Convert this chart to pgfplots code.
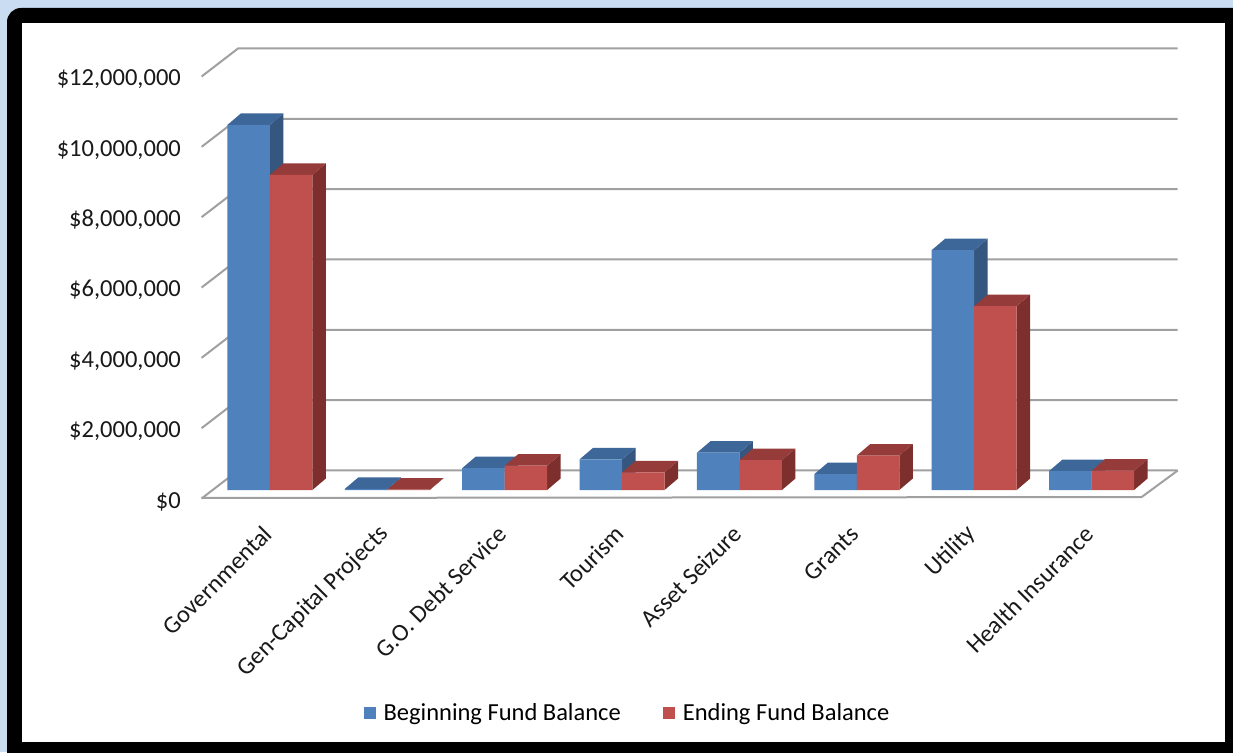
\documentclass[border=0pt]{standalone}
\usepackage{fontspec}
\setmainfont{Carlito}
\usepackage{pgfplots}
\usepackage{pgfplotstable}
\pgfplotsset{compat=1.18}
\definecolor{bluefront}{HTML}{4F81BD}
\definecolor{bluetop}{HTML}{3D6699}
\definecolor{blueside}{HTML}{34567F}
\definecolor{redfront}{HTML}{C0504D}
\definecolor{redtop}{HTML}{953B39}
\definecolor{redside}{HTML}{7D2F2D}
\definecolor{gridc}{HTML}{A0A0A0}
\definecolor{glow}{HTML}{C9DCF2}
\pgfplotstableread{
x begin end
0 10380000 8960000
1 30000 10000
2 620000 690000
3 870000 500000
4 1060000 850000
5 450000 980000
6 6820000 5230000
7 540000 550000
}\fundtable
\begin{document}
\begin{tikzpicture}[x=1pt,y=1pt]
\path[use as bounding box] (0,0) rectangle (1233,752);
\clip (0,0) rectangle (1233,752);
\fill[glow] (0,0) rectangle (1233,752);
\fill[black, rounded corners=14pt] (7,-40) rectangle (1270,744);
\fill[white] (22,10) rectangle (1225,729);
\begin{axis}[
  at={(200.6pt,262pt)}, anchor=south west,
  scale only axis, width=941.1pt, height=422pt,
  xmin=-0.59, xmax=7.427, ymin=0, ymax=12000000,
  clip=false,
  scaled y ticks=false,
  axis line style={draw=none},
  major tick length=0pt,
  xtick={0,...,7},
  xticklabels={Governmental, Gen-Capital Projects, G.O. Debt Service, Tourism, Asset Seizure, Grants, Utility, Health Insurance},
  ytick={0,2000000,4000000,6000000,8000000,10000000,12000000},
  yticklabels={{\$0},{\$2,000,000},{\$4,000,000},{\$6,000,000},{\$8,000,000},{\$10,000,000},{\$12,000,000}},
  tick label style={font=\fontsize{24.5}{29}\selectfont, text=black!90},
  yticklabel style={inner sep=0pt, xshift=-19.6pt, yshift=-18pt, anchor=base east},
  xticklabel style={inner sep=0pt, xshift=-2pt, yshift=-40pt, rotate=45, anchor=east},
  legend style={at={(0.4536,-0.528)}, anchor=center, draw=none, fill=none,
    legend columns=2, font=\fontsize{24.5}{29}\selectfont,
    /tikz/every even column/.append style={column sep=40pt}},
  legend image code/.code={\fill[#1] (0pt,-6pt) rectangle (12pt,6pt); \path (18pt,0pt);},
]
\addlegendimage{fill=bluefront, draw=none}
\addlegendentry{Beginning Fund Balance}
\addlegendimage{fill=redfront, draw=none}
\addlegendentry{Ending Fund Balance}
% back wall grid and left diagonals
\pgfplotsinvokeforeach{0,2000000,4000000,6000000,8000000,10000000,12000000}{
  \draw[gridc, line width=2pt] ([xshift=1pt,yshift=-8.5pt]axis cs:-0.59,#1) -- ([xshift=37.4pt,yshift=19.5pt]axis cs:-0.59,#1) -- ([xshift=36pt,yshift=19.5pt]axis cs:7.427,#1);
}
% floor
\draw[gridc, line width=2pt] ([xshift=1pt,yshift=-8pt]axis cs:-0.59,0) -- ([yshift=-7pt]axis cs:7.427,0) -- ([xshift=36pt,yshift=19.5pt]axis cs:7.427,0);
% blue bars: side and top
\pgfplotsinvokeforeach{0,...,7}{
  \pgfplotstablegetelem{#1}{begin}\of\fundtable
  \edef\tmp{%
   \noexpand\fill[blueside] (axis cs:#1,0) -- (axis cs:#1,\pgfplotsretval) -- ([xshift=13.5pt,yshift=11.5pt]axis cs:#1,\pgfplotsretval) -- ([xshift=13.5pt,yshift=11.5pt]axis cs:#1,0) -- cycle;
   \noexpand\fill[bluetop] ([xshift=-42.5pt]axis cs:#1,\pgfplotsretval) -- (axis cs:#1,\pgfplotsretval) -- ([xshift=13.5pt,yshift=11.5pt]axis cs:#1,\pgfplotsretval) -- ([xshift=-29pt,yshift=11.5pt]axis cs:#1,\pgfplotsretval) -- cycle;
  }\tmp
}
\addplot[ybar, bar width=42.5pt, bar shift=-21.25pt, fill=bluefront, draw=none, forget plot] table[x=x, y=begin]{\fundtable};
% red bars: side and top
\pgfplotsinvokeforeach{0,...,7}{
  \pgfplotstablegetelem{#1}{end}\of\fundtable
  \edef\tmp{%
   \noexpand\fill[redside] ([xshift=42.5pt]axis cs:#1,0) -- ([xshift=42.5pt]axis cs:#1,\pgfplotsretval) -- ([xshift=56pt,yshift=11.5pt]axis cs:#1,\pgfplotsretval) -- ([xshift=56pt,yshift=11.5pt]axis cs:#1,0) -- cycle;
   \noexpand\fill[redtop] (axis cs:#1,\pgfplotsretval) -- ([xshift=42.5pt]axis cs:#1,\pgfplotsretval) -- ([xshift=56pt,yshift=11.5pt]axis cs:#1,\pgfplotsretval) -- ([xshift=13.5pt,yshift=11.5pt]axis cs:#1,\pgfplotsretval) -- cycle;
  }\tmp
}
\addplot[ybar, bar width=42.5pt, bar shift=21.25pt, fill=redfront, draw=none, forget plot] table[x=x, y=end]{\fundtable};
\end{axis}
\end{tikzpicture}
\end{document}
